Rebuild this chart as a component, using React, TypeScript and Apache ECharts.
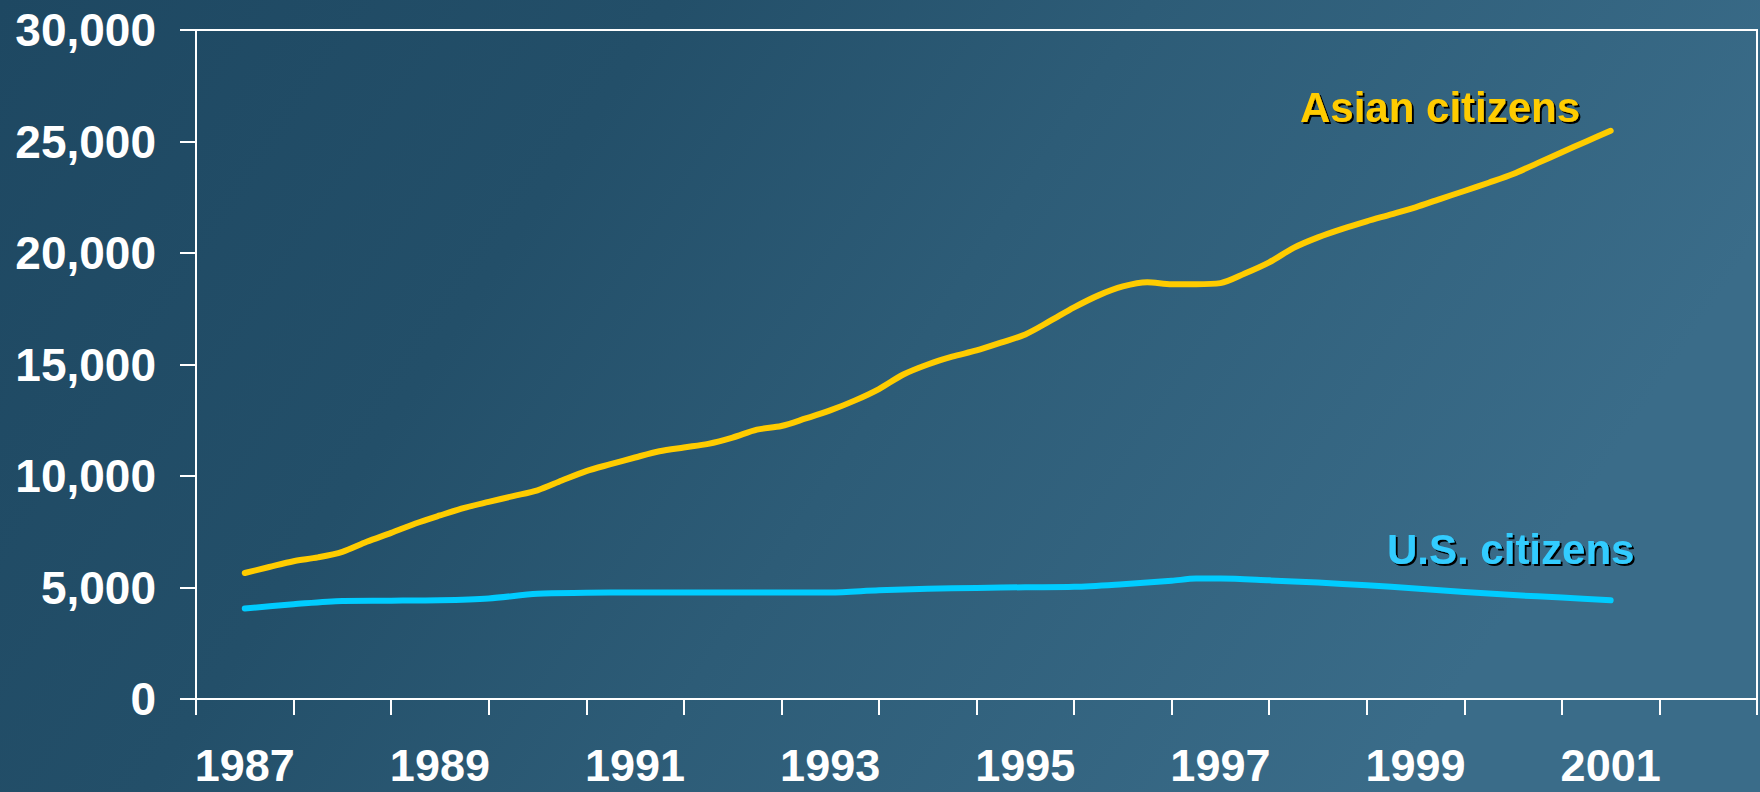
import React, { useEffect, useRef } from "react";
import * as echarts from "echarts";

// Category tick labels (one band per year, every other year labelled)
const yearLabels = [
  "1987", "1988", "1989", "1990", "1991", "1992", "1993", "1994",
  "1995", "1996", "1997", "1998", "1999", "2000", "2001", "2002",
];

// Asian citizens (quarterly readings)
const asianYears = [
  1987.0, 1987.25, 1987.5, 1987.75, 1988.0, 1988.25, 1988.5, 1988.75,
  1989.0, 1989.25, 1989.5, 1989.75, 1990.0, 1990.25, 1990.5, 1990.75,
  1991.0, 1991.25, 1991.5, 1991.75, 1992.0, 1992.25, 1992.5, 1992.75,
  1993.0, 1993.25, 1993.5, 1993.75, 1994.0, 1994.25, 1994.5, 1994.75,
  1995.0, 1995.25, 1995.5, 1995.75, 1996.0, 1996.25, 1996.5, 1996.75,
  1997.0, 1997.25, 1997.5, 1997.75, 1998.0, 1998.25, 1998.5, 1998.75,
  1999.0, 1999.25, 1999.5, 1999.75, 2000.0, 2000.25, 2000.5, 2000.75,
  2001.0,
];
const asianValues = [
  5650, 5920, 6180, 6350, 6600, 7050, 7450, 7870,
  8230, 8570, 8840, 9100, 9360, 9800, 10220, 10530,
  10830, 11110, 11280, 11440, 11720, 12080, 12240, 12580,
  12940, 13380, 13900, 14550, 15000, 15350, 15630, 15980,
  16350, 16940, 17560, 18100, 18500, 18690, 18600, 18600,
  18650, 19080, 19580, 20230, 20700, 21080, 21420, 21730,
  22050, 22420, 22780, 23150, 23540, 24030, 24520, 25000,
  25480,
];

// U.S. citizens
const usYears = [
  1987.0, 1987.5, 1988.0, 1988.5, 1989.0, 1989.5, 1990.0, 1990.5,
  1991.0, 1991.5, 1992.0, 1992.5, 1993.0, 1993.5, 1994.0, 1994.5,
  1995.0, 1995.5, 1996.0, 1996.5, 1996.75, 1997.0, 1997.5, 1998.0,
  1998.5, 1999.0, 1999.5, 2000.0, 2000.5, 2001.0,
];
const usValues = [
  4060, 4250, 4400, 4410, 4430, 4510, 4720, 4760,
  4780, 4780, 4780, 4780, 4780, 4880, 4940, 4980,
  5010, 5030, 5150, 5300, 5400, 5400, 5320, 5220,
  5100, 4960, 4800, 4660, 4550, 4430,
];

const Y_MIN = 0;
const Y_MAX = 30000;
const Y_STEP = 5000;

const FONT = '"Liberation Sans", Arial, Helvetica, sans-serif';

export default function App() {
  const ref = useRef<HTMLDivElement | null>(null);

  useEffect(() => {
    if (!ref.current) return;
    const chart = echarts.init(ref.current, undefined, { renderer: "svg" });

    const asianData = asianYears.map((x, i) => [x, asianValues[i]]);
    const usData = usYears.map((x, i) => [x, usValues[i]]);

    chart.setOption({
      animation: false,
      backgroundColor: {
        type: "linear",
        x: 0,
        y: 0,
        x2: 1,
        y2: 0.3,
        colorStops: [
          { offset: 0, color: "#1e4862" },
          { offset: 0.35, color: "#234f69" },
          { offset: 0.6, color: "#2d5c77" },
          { offset: 1, color: "#3a6c89" },
        ],
      },
      grid: {
        left: 196,
        right: 3,
        top: 30,
        bottom: 93,
        show: true,
        borderColor: "#ffffff",
        borderWidth: 2,
        backgroundColor: "transparent",
      },
      xAxis: [
        {
          type: "category",
          data: yearLabels,
          boundaryGap: true,
          position: "bottom",
          axisLine: { show: true, lineStyle: { color: "#ffffff", width: 2 } },
          axisTick: {
            show: true,
            interval: 0,
            length: 16,
            lineStyle: { color: "#ffffff", width: 2 },
          },
          axisLabel: {
            interval: 1,
            color: "#ffffff",
            fontFamily: FONT,
            fontWeight: "bold",
            fontSize: 45,
            margin: 44,
          },
          splitLine: { show: false },
        },
        {
          type: "value",
          show: false,
          min: 1986.5,
          max: 2002.5,
          position: "bottom",
        },
      ],
      yAxis: {
        type: "value",
        min: Y_MIN,
        max: Y_MAX,
        interval: Y_STEP,
        axisLine: { show: true, lineStyle: { color: "#ffffff", width: 2 } },
        axisTick: {
          show: true,
          length: 16,
          lineStyle: { color: "#ffffff", width: 2 },
        },
        axisLabel: {
          color: "#ffffff",
          fontFamily: FONT,
          fontWeight: "bold",
          fontSize: 46,
          margin: 40,
          formatter: (v: number) => v.toLocaleString("en-US"),
        },
        splitLine: { show: false },
      },
      series: [
        {
          name: "Asian citizens",
          type: "line",
          xAxisIndex: 1,
          data: asianData,
          smooth: 0.3,
          symbol: "none",
          lineStyle: { color: "#ffcc00", width: 6, cap: "round", join: "round" },
        },
        {
          name: "U.S. citizens",
          type: "line",
          xAxisIndex: 1,
          data: usData,
          smooth: 0.3,
          symbol: "none",
          lineStyle: { color: "#00ccff", width: 6, cap: "round", join: "round" },
        },
      ],
      graphic: [
        {
          type: "text",
          x: 1300,
          y: 107,
          style: {
            text: "Asian citizens",
            fill: "#ffcc00",
            font: `bold 42px ${FONT}`,
            verticalAlign: "middle",
            align: "left",
            textShadowColor: "#000000",
            textShadowOffsetX: 2,
            textShadowOffsetY: 2,
            textShadowBlur: 0.5,
          },
        },
        {
          type: "text",
          x: 1387,
          y: 549,
          style: {
            text: "U.S. citizens",
            fill: "#33ccff",
            font: `bold 42px ${FONT}`,
            verticalAlign: "middle",
            align: "left",
            textShadowColor: "#000000",
            textShadowOffsetX: 2,
            textShadowOffsetY: 2,
            textShadowBlur: 0.5,
          },
        },
      ],
    });

    return () => {
      chart.dispose();
    };
  }, []);

  return (
    <div
      ref={ref}
      style={{ position: "absolute", left: 0, top: 0, width: 1760, height: 792 }}
    />
  );
}
